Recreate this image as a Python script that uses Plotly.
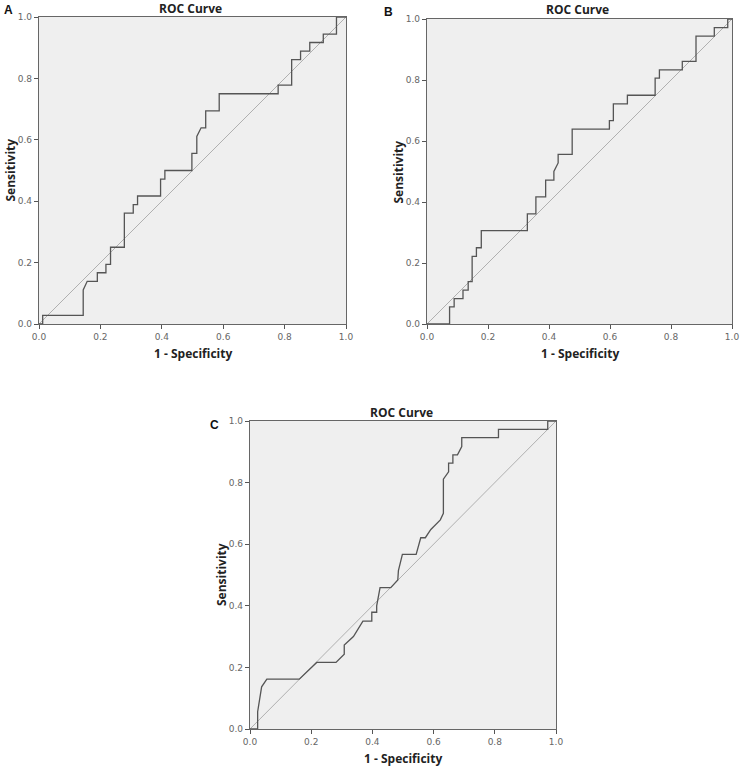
import plotly.graph_objects as go

# ---------------- data ----------------
A_fpr = [0, 0.012, 0.012, 0.144, 0.144, 0.157, 0.190, 0.190, 0.218, 0.218,
         0.233, 0.233, 0.278, 0.278, 0.307, 0.307, 0.321, 0.321, 0.396, 0.396,
         0.41, 0.41, 0.498, 0.498, 0.514, 0.514, 0.528, 0.543, 0.543, 0.587,
         0.587, 0.779, 0.779, 0.823, 0.823, 0.852, 0.852, 0.882, 0.882, 0.926,
         0.926, 0.969, 0.969, 1.0]
A_tpr = [0, 0, 0.028, 0.028, 0.111, 0.139, 0.139, 0.167, 0.167, 0.194,
         0.194, 0.25, 0.25, 0.361, 0.361, 0.389, 0.389, 0.417, 0.417, 0.472,
         0.472, 0.5, 0.5, 0.556, 0.556, 0.611, 0.639, 0.639, 0.694, 0.694,
         0.75, 0.75, 0.778, 0.778, 0.861, 0.861, 0.889, 0.889, 0.917, 0.917,
         0.944, 0.944, 1.0, 1.0]

B_fpr = [0, 0.074, 0.074, 0.089, 0.089, 0.118, 0.118, 0.135, 0.135, 0.148,
         0.148, 0.162, 0.162, 0.178, 0.178, 0.329, 0.329, 0.357, 0.357, 0.389,
         0.389, 0.416, 0.416, 0.43, 0.43, 0.476, 0.476, 0.598, 0.598, 0.611,
         0.611, 0.657, 0.657, 0.748, 0.748, 0.762, 0.762, 0.837, 0.837, 0.882,
         0.882, 0.942, 0.942, 0.986, 0.986, 1.0]
B_tpr = [0, 0, 0.056, 0.056, 0.083, 0.083, 0.111, 0.111, 0.139, 0.139,
         0.222, 0.222, 0.25, 0.25, 0.306, 0.306, 0.361, 0.361, 0.417, 0.417,
         0.472, 0.472, 0.5, 0.528, 0.556, 0.556, 0.639, 0.639, 0.667, 0.667,
         0.722, 0.722, 0.75, 0.75, 0.806, 0.806, 0.833, 0.833, 0.861, 0.861,
         0.944, 0.944, 0.972, 0.972, 1.0, 1.0]

C_fpr = [0, 0.025, 0.025, 0.038, 0.055, 0.161, 0.218, 0.281, 0.308, 0.308,
         0.338, 0.369, 0.398, 0.398, 0.414, 0.414, 0.425, 0.46, 0.483, 0.485,
         0.498, 0.543, 0.558, 0.573, 0.591, 0.622, 0.632, 0.632, 0.649, 0.649,
         0.663, 0.663, 0.678, 0.692, 0.692, 0.812, 0.812, 0.973, 0.973, 1.0]
C_tpr = [0, 0, 0.056, 0.137, 0.162, 0.162, 0.216, 0.216, 0.243, 0.273,
         0.30, 0.35, 0.35, 0.379, 0.379, 0.40, 0.459, 0.459, 0.484, 0.514,
         0.567, 0.567, 0.621, 0.621, 0.648, 0.679, 0.70, 0.811, 0.835, 0.863,
         0.863, 0.89, 0.89, 0.917, 0.946, 0.946, 0.973, 0.973, 1.0, 1.0]

ref_line = [0, 1]
tick_vals = [0.0, 0.2, 0.4, 0.6, 0.8, 1.0]
tick_text = ["0.0", "0.2", "0.4", "0.6", "0.8", "1.0"]
panel_labels = ["A", "B", "C"]
title_text = "ROC Curve"
x_title = "1 - Specificity"
y_title = "Sensitivity"

W, H = 740, 766
# plot areas in pixels: (left, right, top, bottom)
boxes = [(39, 346, 17, 324), (427, 732, 19, 324), (250, 556, 421, 729)]

curves = [(A_fpr, A_tpr), (B_fpr, B_tpr), (C_fpr, C_tpr)]

fig = go.Figure()
layout = dict(
    width=W, height=H,
    margin=dict(l=0, r=0, t=0, b=0, autoexpand=False),
    paper_bgcolor="white",
    plot_bgcolor="#efefef",
    showlegend=False,
    font=dict(family="DejaVu Sans", color="#555555"),
)
annotations = []

for i, ((fx, ty), (l, r, t, b)) in enumerate(zip(curves, boxes)):
    sfx = "" if i == 0 else str(i + 1)
    xa, ya = "x" + sfx, "y" + sfx
    fig.add_trace(go.Scatter(x=ref_line, y=ref_line, mode="lines",
                             line=dict(color="#a8a8a8", width=0.9),
                             xaxis=xa, yaxis=ya, hoverinfo="skip"))
    fig.add_trace(go.Scatter(x=fx, y=ty, mode="lines",
                             line=dict(color="#555555", width=1.3),
                             xaxis=xa, yaxis=ya))
    axis_common = dict(range=[0, 1], showgrid=False, zeroline=False,
                       showline=True, linecolor="#666666", linewidth=1.2,
                       mirror=True, ticks="outside", ticklen=4,
                       tickcolor="#555555", tickwidth=1,
                       tickvals=tick_vals, ticktext=tick_text,
                       tickfont=dict(family="DejaVu Sans", size=9, color="#666666"),
                       fixedrange=True)
    layout["xaxis" + sfx] = dict(axis_common, domain=[l / W, r / W],
                                 anchor=ya)
    layout["yaxis" + sfx] = dict(axis_common, domain=[1 - b / H, 1 - t / H],
                                 anchor=xa)
    cx = (l + r) / 2
    cy = (t + b) / 2
    # panel title
    annotations.append(dict(x=(cx - 2) / W, y=1 - (t - 9) / H, xref="paper", yref="paper",
                            text="<b>" + title_text + "</b>", showarrow=False,
                            xanchor="center", yanchor="middle",
                            font=dict(family="Open Sans", size=12, color="#222222")))
    # x title
    annotations.append(dict(x=cx / W, y=1 - (b + 29) / H, xref="paper", yref="paper",
                            text="<b>" + x_title + "</b>", showarrow=False,
                            xanchor="center", yanchor="middle",
                            font=dict(family="Open Sans", size=12, color="#222222")))
    # y title
    annotations.append(dict(x=(l - 29) / W, y=1 - cy / H, xref="paper", yref="paper",
                            text="<b>" + y_title + "</b>", showarrow=False, textangle=-90,
                            xanchor="center", yanchor="middle",
                            font=dict(family="Open Sans", size=12, color="#222222")))

# panel letters
letter_pos = [(8, 10), (389, 12), (214, 425)]
for lab, (px, py) in zip(panel_labels, letter_pos):
    annotations.append(dict(x=px / W, y=1 - py / H, xref="paper", yref="paper",
                            text="<b>" + lab + "</b>", showarrow=False,
                            xanchor="center", yanchor="middle",
                            font=dict(family="Liberation Sans", size=12, color="#111111")))

layout["annotations"] = annotations
fig.update_layout(**layout)
fig.write_html("out.html",
               config={"displayModeBar": False},
               post_script="document.body.style.margin='0';document.body.style.overflow='hidden';")
